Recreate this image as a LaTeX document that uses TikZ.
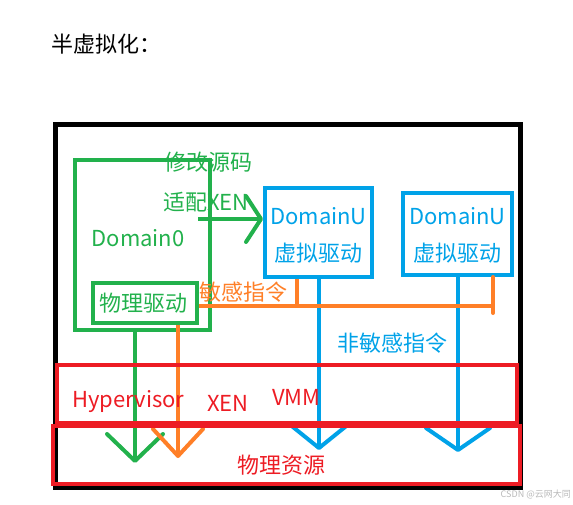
\documentclass[tikz,border=0pt]{standalone}
\usepackage{fontspec}
\setmainfont{Noto Sans CJK SC}
\usetikzlibrary{arrows.meta}

\definecolor{pgreen}{RGB}{34,177,76}
\definecolor{pblue}{RGB}{0,162,232}
\definecolor{pred}{RGB}{237,28,36}
\definecolor{porange}{RGB}{255,127,39}

\begin{document}
\begin{tikzpicture}[x=1pt, y=-1pt, font=\fontsize{22}{25}\selectfont,
  box/.style={draw, rectangle, line width=4pt, inner sep=0pt},
  txt/.style={inner sep=0pt},
  wire/.style={line width=4pt},
  chev/.style 2 args={wire, -{Straight Barb[round, length=#1, width=#2]}}]
\useasboundingbox (0,0) rectangle (573,504);
\node[txt, anchor=west] (title) at (51,44) {半虚拟化：};
% outer frame
\draw[line width=5pt] (55,124) rectangle (520,487);
% Domain0 with its driver
\node[box, pgreen, minimum width=135pt, minimum height=170pt] (dom0) at (142.5,245) {};
\node[txt, pgreen] (dom0lbl) at (138,238) {Domain0};
\node[box, pgreen, minimum width=104pt, minimum height=40pt] (drv) at (145,303) {};
\node[txt, pgreen] (drvlbl) at (143,303) {物理驱动};
\node[txt, pgreen, anchor=west] (src) at (164,162) {修改源码};
\node[txt, pgreen, anchor=west] (adapt) at (163,202) {适配XEN};
% DomainU boxes
\foreach \n/\x/\y/\w/\h in {du1/318.5/232.5/107/89, du2/457.5/234/109/82} {
  \node[box, pblue, minimum width=\w pt, minimum height=\h pt] (\n) at (\x,\y) {};
  \node[txt, pblue] (\n top) at (\x,216) {DomainU};
  \node[txt, pblue] (\n bot) at (\x,253) {虚拟驱动};
}
% free ends
\coordinate (xen) at (198,219);
\coordinate (gtip) at (135,463);
\coordinate (otip) at (178,458);
\coordinate (b1tip) at (319,450);
\coordinate (b2tip) at (458,452);
\coordinate (o1) at (297,306);
\coordinate (oend) at (493,306);
\coordinate (otick) at (493,313);
% calls down to the hardware
\draw[chev={15pt}{46pt}, pgreen] (xen) -- (xen -| du1.west);
\draw[chev={27pt}{56pt}, pgreen] (gtip |- dom0.south) -- (gtip);
\draw[chev={27pt}{50pt}, porange] (otip |- drv.south) -- (otip);
\draw[chev={25pt}{62pt}, pblue] (b1tip |- du1.south) -- (b1tip);
\draw[chev={22pt}{64pt}, pblue] (b2tip |- du2.south) -- (b2tip);
% sensitive instructions
\draw[wire, porange] (drv.east |- oend) -- (oend);
\draw[wire, porange] (o1 |- du1.south) -- (o1);
\draw[wire, porange, line cap=round] (oend |- du2.south) -- (otick);
\node[txt, porange, anchor=west] (sens) at (199,292) {敏感指令};
\node[txt, pblue, anchor=west] (nonsens) at (337,343) {非敏感指令};
% hypervisor and hardware
\node[box, pred, line width=4.5pt, minimum width=460pt, minimum height=58pt] (hyp) at (287,394) {};
\node[box, pred, line width=4.5pt, minimum width=467pt, minimum height=58pt] (res) at (286.5,455) {};
\node[txt, pred, anchor=west] (hv) at (72,402) {Hypervisor};
\node[txt, pred, anchor=west] (hxen) at (207,403) {XEN};
\node[txt, pred, anchor=west] (vmm) at (272,397) {VMM};
\node[txt, pred] (reslbl) at (281,465) {物理资源};
\node[txt, gray!55, font=\fontsize{9}{10}\selectfont, anchor=east] (mark) at (571,494) {CSDN @云网大同};
\end{tikzpicture}
\end{document}
